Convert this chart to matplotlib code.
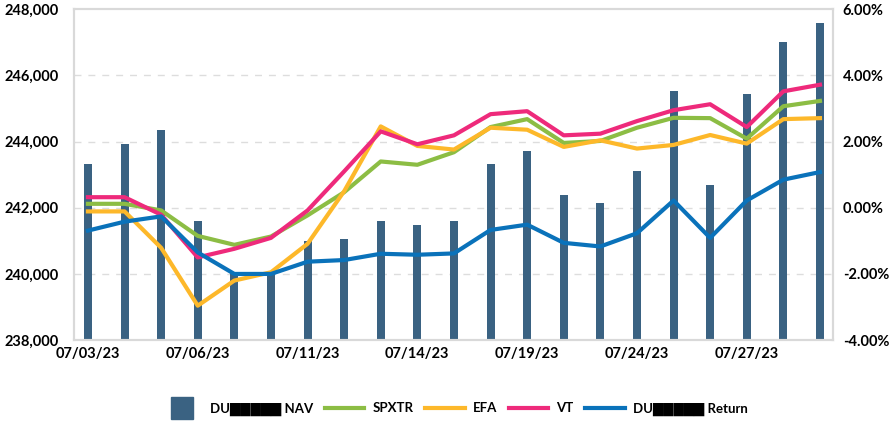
import matplotlib.pyplot as plt
from matplotlib.lines import Line2D
import numpy as np

plt.rcParams['font.family'] = ['Lato', 'DejaVu Sans']

dates = ['07/03/23', '07/04/23', '07/05/23', '07/06/23', '07/07/23', '07/10/23', '07/11/23',
         '07/12/23', '07/13/23', '07/14/23', '07/17/23', '07/18/23', '07/19/23', '07/20/23',
         '07/21/23', '07/24/23', '07/25/23', '07/26/23', '07/27/23', '07/28/23', '07/31/23']

nav = [243310, 243920, 244340, 241610, 240030, 240040, 240990, 241070, 241590, 241490,
       241610, 243310, 243710, 242400, 242140, 243100, 245530, 242680, 245430, 247010, 247590]

spxtr = [0.12, 0.12, -0.08, -0.85, -1.12, -0.87, -0.23, 0.47, 1.40, 1.30, 1.68,
         2.44, 2.68, 1.96, 2.02, 2.42, 2.72, 2.71, 2.09, 3.07, 3.23]
efa = [-0.11, -0.11, -1.21, -2.96, -2.20, -1.95, -1.09, 0.50, 2.46, 1.87, 1.76,
       2.42, 2.36, 1.84, 2.04, 1.79, 1.90, 2.20, 1.94, 2.68, 2.71]
vt = [0.32, 0.32, -0.21, -1.50, -1.24, -0.91, -0.08, 1.10, 2.31, 1.92, 2.19,
      2.83, 2.92, 2.19, 2.24, 2.62, 2.95, 3.13, 2.44, 3.52, 3.72]
ret = [-0.69, -0.42, -0.26, -1.35, -2.00, -2.00, -1.63, -1.58, -1.39, -1.42, -1.38,
       -0.67, -0.51, -1.06, -1.17, -0.77, 0.22, -0.91, 0.22, 0.85, 1.08]

x = np.arange(len(dates))

fig = plt.figure(figsize=(8.92, 4.23), dpi=100)
ax = fig.add_axes([0.083, 0.196, 0.851, 0.782])
ax2 = ax.twinx()

ax.bar(x, np.array(nav) - 238000, bottom=238000, width=0.22, color='#3a6282', zorder=2)
ax.set_ylim(238000, 248000)
ax.set_yticks(range(238000, 248001, 2000))
ax.set_yticklabels([f'{v:,}' for v in range(238000, 248001, 2000)])
ax.set_xlim(-0.38, 20.36)
ax.set_xticks(x[::3])
ax.set_xticklabels(dates[::3])
for v in range(240000, 247000, 2000):
    ax.axhline(v, color='#dddddd', lw=1, ls=(0, (5, 5)), zorder=0)

l1, = ax2.plot(x, spxtr, color='#8cbd44', lw=3, label='SPXTR')
l2, = ax2.plot(x, efa, color='#fdb82a', lw=3, label='EFA')
l3, = ax2.plot(x, vt, color='#ee2a7b', lw=3, label='VT')
l4, = ax2.plot(x, ret, color='#0a72ba', lw=3, label='DU█████ Return')
ax2.set_ylim(-4, 6)
ax2.set_yticks(range(-4, 7, 2))
ax2.set_yticklabels([f'{v:.2f}%' for v in range(-4, 7, 2)])

for a in (ax, ax2):
    for s in a.spines.values():
        s.set_color('#d9d9d9')
        s.set_linewidth(1.5)
    a.tick_params(length=0, labelsize=10.5)
    for t in a.get_xticklabels() + a.get_yticklabels():
        t.set_fontweight('bold')
ax.tick_params(axis='y', pad=11)
ax.tick_params(axis='x', pad=5)
ax2.tick_params(axis='y', pad=7)

nav_handle = Line2D([], [], ls='none', marker='s', ms=16, color='#3a6282', label='DU█████ NAV')
fig.legend(handles=[nav_handle, l1, l2, l3, l4], loc='center', bbox_to_anchor=(0.51, 0.033),
           ncol=5, frameon=False, handlelength=3.0, columnspacing=0.9, handletextpad=0.6,
           prop={'weight': 'bold', 'size': 9.5})

fig.savefig('out.png', dpi=100)
